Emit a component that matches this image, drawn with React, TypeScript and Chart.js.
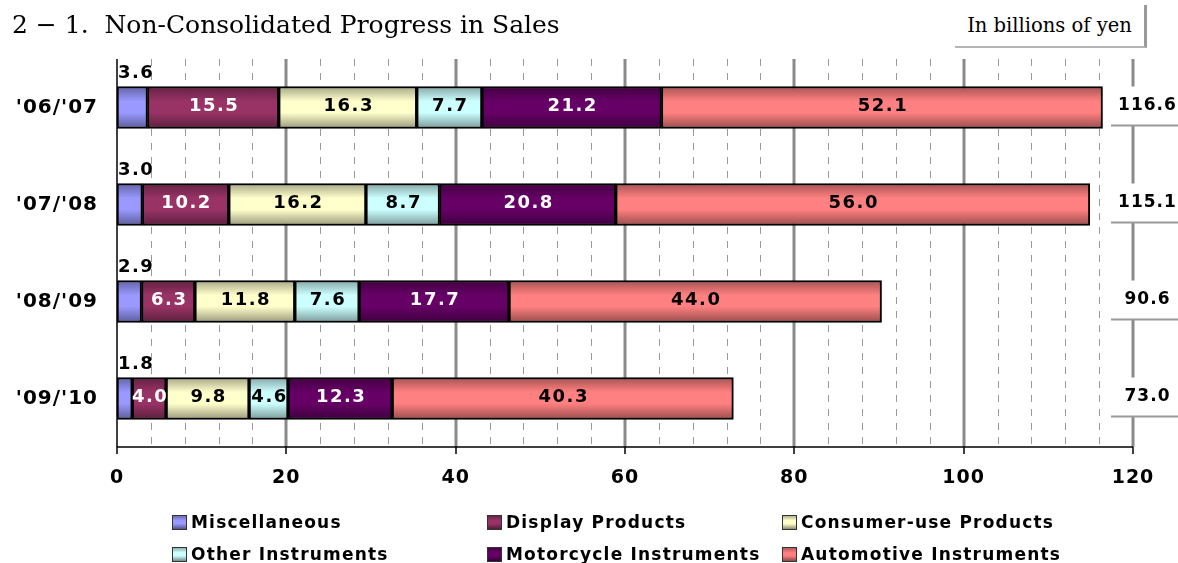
import React, { useEffect, useRef } from "react";
import { Chart, registerables } from "chart.js";

Chart.register(...registerables);

const categories = ["'06/'07", "'07/'08", "'08/'09", "'09/'10"];
const miscellaneous = [3.6, 3.0, 2.9, 1.8];
const displayProducts = [15.5, 10.2, 6.3, 4.0];
const consumerUse = [16.3, 16.2, 11.8, 9.8];
const otherInstruments = [7.7, 8.7, 7.6, 4.6];
const motorcycle = [21.2, 20.8, 17.7, 12.3];
const automotive = [52.1, 56.0, 44.0, 40.3];
const totals = [116.6, 115.1, 90.6, 73.0];

const seriesNames = [
  "Miscellaneous",
  "Display Products",
  "Consumer-use Products",
  "Other Instruments",
  "Motorcycle Instruments",
  "Automotive Instruments",
];
const seriesValues = [miscellaneous, displayProducts, consumerUse, otherInstruments, motorcycle, automotive];
const seriesColors = ["#9999FF", "#993366", "#FFFFCC", "#CCFFFF", "#660066", "#FF8080"];
const labelColors = ["#000000", "#ffffff", "#000000", "#000000", "#ffffff", "#000000"];

const X_MIN = 0;
const X_MAX = 120;
const MAJOR_STEP = 20;
const MINOR_STEP = 4;

const BAR_THICKNESS = 42;
const FONT = "'DejaVu Sans', sans-serif";

function shade(hex: string, f: number): string {
  const n = parseInt(hex.slice(1), 16);
  const r = Math.round(((n >> 16) & 255) * (1 - f));
  const g = Math.round(((n >> 8) & 255) * (1 - f));
  const b = Math.round((n & 255) * (1 - f));
  return `rgb(${r},${g},${b})`;
}

function barFill(context: any) {
  const chart = context.chart;
  const base = seriesColors[context.datasetIndex];
  const yScale = chart.scales?.y;
  if (!yScale || context.dataIndex === undefined) return base;
  const c = yScale.getPixelForValue(context.dataIndex);
  if (!isFinite(c)) return base;
  const top = c - BAR_THICKNESS / 2;
  const bottom = c + BAR_THICKNESS / 2;
  const g = chart.ctx.createLinearGradient(0, top, 0, bottom);
  g.addColorStop(0, shade(base, 0.35));
  g.addColorStop(0.35, base);
  g.addColorStop(0.62, base);
  g.addColorStop(1, shade(base, 0.4));
  return g;
}

const spacingPlugin = {
  id: "letterSpacing",
  beforeDraw(chart: any) {
    (chart.ctx as any).letterSpacing = "1px";
  },
  afterDraw(chart: any) {
    (chart.ctx as any).letterSpacing = "0px";
  },
};

const gridPlugin = {
  id: "customGrid",
  beforeDatasetsDraw(chart: any) {
    const { ctx, chartArea } = chart;
    const xs = chart.scales.x;
    ctx.save();
    ctx.strokeStyle = "#9a9a9a";
    ctx.lineWidth = 1;
    ctx.setLineDash([7, 7]);
    for (let v = X_MIN + MINOR_STEP; v < X_MAX + 0.001; v += MINOR_STEP) {
      if (Math.abs(v % MAJOR_STEP) < 0.001) continue;
      const x = Math.round(xs.getPixelForValue(v)) + 0.5;
      ctx.beginPath();
      ctx.moveTo(x, chartArea.top);
      ctx.lineTo(x, chartArea.bottom);
      ctx.stroke();
    }
    ctx.setLineDash([]);
    ctx.strokeStyle = "#8a8a8a";
    ctx.lineWidth = 3;
    for (let v = X_MIN + MAJOR_STEP; v <= X_MAX + 0.001; v += MAJOR_STEP) {
      const x = Math.round(xs.getPixelForValue(v));
      ctx.beginPath();
      ctx.moveTo(x, chartArea.top);
      ctx.lineTo(x, chartArea.bottom);
      ctx.stroke();
    }
    ctx.strokeStyle = "#000";
    ctx.lineWidth = 1.5;
    const x0 = Math.round(xs.getPixelForValue(X_MIN));
    ctx.beginPath();
    ctx.moveTo(x0, chartArea.top);
    ctx.lineTo(x0, chartArea.bottom);
    ctx.stroke();
    ctx.beginPath();
    ctx.moveTo(x0, chartArea.bottom);
    ctx.lineTo(Math.round(xs.getPixelForValue(X_MAX)), chartArea.bottom);
    ctx.stroke();
    for (let v = X_MIN; v <= X_MAX + 0.001; v += MAJOR_STEP) {
      const x = Math.round(xs.getPixelForValue(v));
      ctx.beginPath();
      ctx.moveTo(x, chartArea.bottom);
      ctx.lineTo(x, chartArea.bottom + 7);
      ctx.stroke();
    }
    ctx.restore();
  },
};

const labelsPlugin = {
  id: "barLabels",
  afterDatasetsDraw(chart: any) {
    const { ctx, chartArea } = chart;
    ctx.save();
    ctx.font = `bold 18px ${FONT}`;
    ctx.textBaseline = "middle";
    (ctx as any).letterSpacing = "1.5px";
    chart.data.datasets.forEach((ds: any, di: number) => {
      const meta = chart.getDatasetMeta(di);
      meta.data.forEach((el: any, i: number) => {
        const val = ds.data[i];
        const text = val.toFixed(1);
        const top = el.y - el.height / 2;
        if (di === 0) {
          ctx.fillStyle = "#000";
          ctx.textAlign = "left";
          ctx.fillText(text, chartArea.left + 1, top - 13);
        } else {
          ctx.fillStyle = labelColors[di];
          ctx.textAlign = "center";
          ctx.fillText(text, (el.x + el.base) / 2 + 1, el.y - 1);
        }
      });
    });
    const ys = chart.scales.y;
    const w = chart.width;
    totals.forEach((t, i) => {
      const c = ys.getPixelForValue(i);
      ctx.fillStyle = "#ffffff";
      ctx.fillRect(1111, c - BAR_THICKNESS / 2, w - 1111, BAR_THICKNESS - 3);
      ctx.strokeStyle = "#9a9a9a";
      ctx.lineWidth = 2;
      ctx.beginPath();
      ctx.moveTo(1111, c + BAR_THICKNESS / 2 - 3);
      ctx.lineTo(w, c + BAR_THICKNESS / 2 - 3);
      ctx.stroke();
      ctx.fillStyle = "#000";
      ctx.textAlign = "center";
      ctx.font = `bold 17px ${FONT}`;
      (ctx as any).letterSpacing = "1px";
      ctx.fillText(t.toFixed(1), 1147.5, c - 2);
    });
    ctx.restore();
  },
};

function legendBg(color: string) {
  return `linear-gradient(to bottom, ${shade(color, 0.3)} 0%, ${color} 35%, ${color} 60%, ${shade(color, 0.45)} 100%)`;
}

const legendPos = [
  { left: 172, top: 513 },
  { left: 487, top: 513 },
  { left: 782, top: 513 },
  { left: 172, top: 545 },
  { left: 487, top: 545 },
  { left: 782, top: 545 },
];

export default function App() {
  const canvasRef = useRef<HTMLCanvasElement | null>(null);

  useEffect(() => {
    const canvas = canvasRef.current;
    if (!canvas) return;
    const chart = new Chart(canvas, {
      type: "bar",
      data: {
        labels: categories,
        datasets: seriesValues.map((vals, i) => ({
          label: seriesNames[i],
          data: vals,
          backgroundColor: barFill,
          borderColor: "#000000",
          borderWidth: 2,
          borderSkipped: false,
          barThickness: BAR_THICKNESS,
        })),
      },
      options: {
        indexAxis: "y",
        animation: false,
        responsive: false,
        devicePixelRatio: 1,
        layout: { padding: { left: 0, right: 45, top: 59, bottom: 66 } },
        plugins: {
          legend: { display: false },
          title: { display: false },
          tooltip: { enabled: false },
        },
        scales: {
          x: {
            stacked: true,
            min: X_MIN,
            max: X_MAX,
            grid: { display: false, drawTicks: false },
            border: { display: false },
            ticks: {
              stepSize: MAJOR_STEP,
              padding: 20,
              color: "#000",
              font: { family: FONT, size: 19, weight: "bold" },
            },
            afterFit: (s: any) => {
              s.height = 50;
            },
          },
          y: {
            stacked: true,
            grid: { display: false, drawTicks: false },
            border: { display: false },
            ticks: {
              padding: 19,
              color: "#000",
              font: { family: FONT, size: 20, weight: "bold" },
            },
            afterFit: (s: any) => {
              s.width = 117;
            },
          },
        },
      },
      plugins: [spacingPlugin, gridPlugin, labelsPlugin],
    } as any);
    return () => chart.destroy();
  }, []);

  return (
    <div
      style={{
        position: "absolute",
        left: 0,
        top: 0,
        width: 1178,
        height: 563,
        background: "#ffffff",
        overflow: "hidden",
      }}
    >
      <canvas ref={canvasRef} width={1178} height={563} style={{ position: "absolute", left: 0, top: 0 }} />
      <div
        style={{
          position: "absolute",
          left: 12,
          top: 8,
          fontFamily: "'DejaVu Serif', serif",
          fontSize: 25,
          lineHeight: "34px",
          color: "#000",
          whiteSpace: "pre",
        }}
      >
        {"2 − 1.  Non-Consolidated Progress in Sales"}
      </div>
      <div
        style={{
          position: "absolute",
          left: 955,
          top: 5,
          width: 189,
          height: 41,
          borderRight: "3px solid #9a9a9a",
          borderBottom: "2px solid #b5b5b5",
          fontFamily: "'DejaVu Serif', serif",
          fontSize: 19.5,
          lineHeight: "41px",
          textAlign: "center",
          color: "#000",
          whiteSpace: "nowrap",
          background: "#fff",
        }}
      >
        In billions of yen
      </div>
      {seriesNames.map((name, i) => (
        <div
          key={name}
          style={{
            position: "absolute",
            left: legendPos[i].left,
            top: legendPos[i].top,
            height: 18,
            display: "flex",
            alignItems: "center",
            whiteSpace: "nowrap",
          }}
        >
          <div
            style={{
              width: 13,
              height: 13,
              border: "1.5px solid #333",
              background: legendBg(seriesColors[i]),
              marginRight: 4,
            }}
          />
          <span
            style={{
              fontFamily: FONT,
              fontWeight: "bold",
              fontSize: 17,
              letterSpacing: "1.2px",
              color: "#000",
            }}
          >
            {name}
          </span>
        </div>
      ))}
    </div>
  );
}
